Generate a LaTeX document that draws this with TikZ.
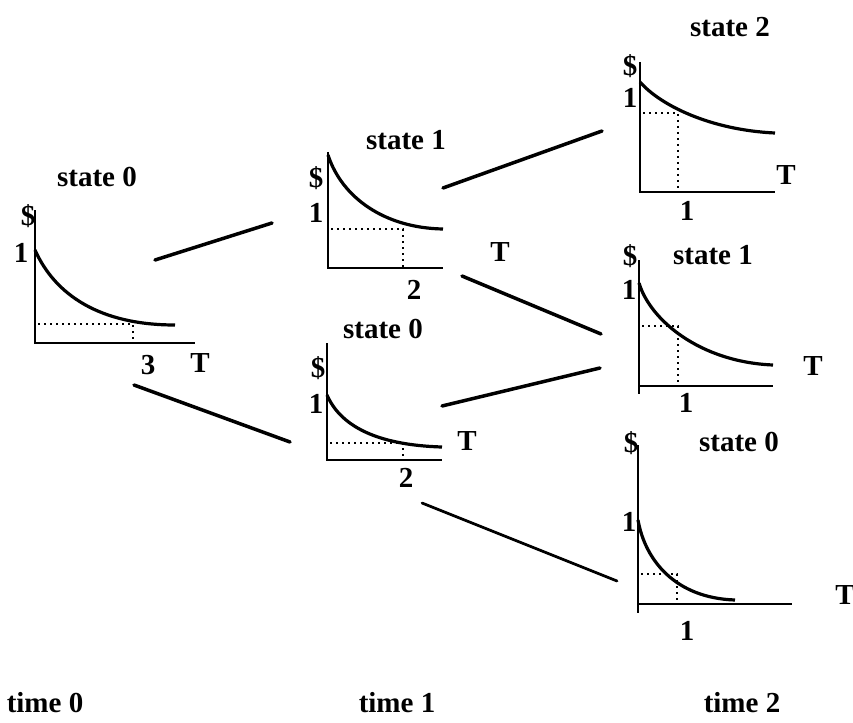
\documentclass[tikz,border=0pt]{standalone}
\usepackage{fontspec}
\setmainfont{Liberation Serif}
\begin{document}
\begin{tikzpicture}[x=1pt,y=-1pt,
  ax/.style={line width=2.8pt},
  crv/.style={line width=3.2pt},
  dotline/.style={line width=1.7pt, dash pattern=on 1.7pt off 4.3pt},
  edge/.style={line width=3.5pt, line cap=round},
  thinedge/.style={line width=2.7pt, line cap=round},
  lbl/.style={font=\fontsize{29}{31}\selectfont\bfseries, inner sep=0pt}]
\useasboundingbox (0,0) rectangle (853,722);

% ---------- plot A: time 0, state 0
\draw[ax] (35,210) -- (35,343) -- (195,343);
\draw[crv] (35,250) .. controls (55,295) and (100,325) .. (175,325);
\draw[dotline] (38,324) -- (133,324) -- (133,343);
\node[lbl] (a-title) at (97,177) {state 0};
\node[lbl] (a-dollar) at (28,216) {\$};
\node[lbl] (a-one) at (21,253) {1};
\node[lbl] (a-three) at (148,365) {3};
\node[lbl] (a-T) at (200,363) {T};

% ---------- plot B: time 1, state 1
\draw[ax] (328,152) -- (328,268) -- (443,268);
\draw[crv] (328,155) .. controls (342,198) and (385,228) .. (443,229);
\draw[dotline] (331,229) -- (403,229) -- (403,268);
\node[lbl] (b-title) at (406,140) {state 1};
\node[lbl] (b-dollar) at (316,178) {\$};
\node[lbl] (b-one) at (316,213) {1};
\node[lbl] (b-two) at (414,290) {2};
\node[lbl] (b-T) at (500,252) {T};

% ---------- plot C: time 1, state 0
\draw[ax] (327,343) -- (327,460) -- (442,460);
\draw[crv] (327,395) .. controls (340,425) and (375,445) .. (442,447);
\draw[dotline] (330,443) -- (403,443) -- (403,460);
\node[lbl] (c-title) at (383,329) {state 0};
\node[lbl] (c-dollar) at (318,368) {\$};
\node[lbl] (c-one) at (316,404) {1};
\node[lbl] (c-two) at (406,478) {2};
\node[lbl] (c-T) at (467,441) {T};

% ---------- plot D: time 2, state 2
\draw[ax] (640,62) -- (640,192) -- (775,192);
\draw[crv] (640,82) .. controls (660,105) and (710,130) .. (775,133);
\draw[dotline] (643,113) -- (678,113) -- (678,192);
\node[lbl] (d-title) at (730,27) {state 2};
\node[lbl] (d-dollar) at (630,66) {\$};
\node[lbl] (d-one) at (630,98) {1};
\node[lbl] (d-onex) at (687,211) {1};
\node[lbl] (d-T) at (786,175) {T};

% ---------- plot E: time 2, state 1
\draw[ax] (639,260) -- (639,394);
\draw[ax] (639,386) -- (773,386);
\draw[crv] (639,283) .. controls (650,320) and (700,362) .. (773,365);
\draw[dotline] (642,326) -- (678,326) -- (678,386);
\node[lbl] (e-title) at (713,255) {state 1};
\node[lbl] (e-dollar) at (630,256) {\$};
\node[lbl] (e-one) at (629,290) {1};
\node[lbl] (e-onex) at (686,403) {1};
\node[lbl] (e-T) at (813,366) {T};

% ---------- plot F: time 2, state 0
\draw[ax] (638,445) -- (638,613);
\draw[ax] (638,604) -- (792,604);
\draw[crv] (638,520) .. controls (645,560) and (675,598) .. (735,600);
\draw[dotline] (641,574) -- (677,574) -- (677,604);
\node[lbl] (f-title) at (739,442) {state 0};
\node[lbl] (f-dollar) at (631,443) {\$};
\node[lbl] (f-one) at (629,522) {1};
\node[lbl] (f-onex) at (687,631) {1};
\node[lbl] (f-T) at (845,595) {T};

% ---------- connectors
\coordinate (ab1) at (155,260);
\coordinate (ab2) at (272,223);
\coordinate (ac1) at (134,385);
\coordinate (ac2) at (290,442);
\coordinate (bd1) at (443,188);
\coordinate (bd2) at (602,131);
\coordinate (be1) at (462,276);
\coordinate (be2) at (601,334);
\coordinate (ce1) at (442,406);
\coordinate (ce2) at (600,368);
\coordinate (cf1) at (422,503);
\coordinate (cf2) at (617,581);
\draw[edge] (ab1) -- (ab2);
\draw[edge] (ac1) -- (ac2);
\draw[edge] (bd1) -- (bd2);
\draw[edge] (be1) -- (be2);
\draw[edge] (ce1) -- (ce2);
\draw[thinedge] (cf1) -- (cf2);

% ---------- time labels
\node[lbl] (t0) at (45,703) {time 0};
\node[lbl] (t1) at (397,703) {time 1};
\node[lbl] (t2) at (742,703) {time 2};
\end{tikzpicture}
\end{document}
